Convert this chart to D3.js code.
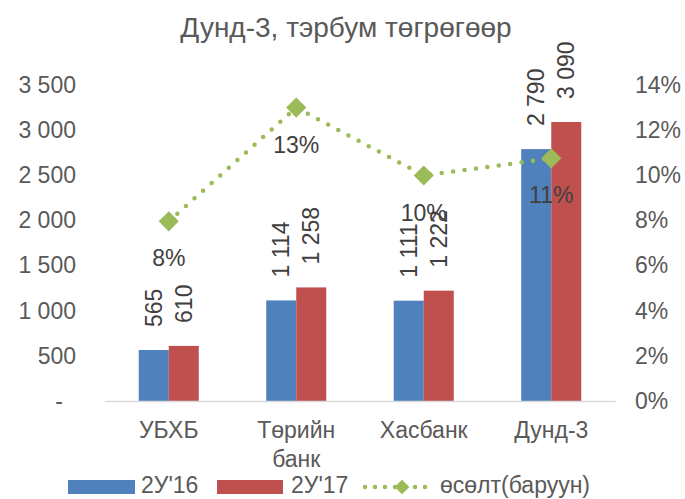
<!DOCTYPE html>
<html>
<head>
<meta charset="utf-8">
<script src="https://cdn.jsdelivr.net/npm/d3@7"></script>
<style>
  body { margin: 0; background: #fff; }
  svg { display: block; font-family: "Liberation Sans", Arial, sans-serif; }
</style>
</head>
<body>
<svg id="chart" width="685" height="499"></svg>
<script>
const titleText = "Дунд-3, тэрбум төгрөгөөр";
const categories = ["УБХБ", "Төрийн банк", "Хасбанк", "Дунд-3"];
const seriesNames = ["2У'16", "2У'17", "өсөлт(баруун)"];
const values16 = [565, 1114, 1111, 2790];
const values17 = [610, 1258, 1222, 3090];
const growth = [0.0796, 0.13, 0.0999, 0.1075];
const leftTicks = [0, 500, 1000, 1500, 2000, 2500, 3000, 3500];
const rightTicks = [0, 0.02, 0.04, 0.06, 0.08, 0.10, 0.12, 0.14];

const colors = { s16: "#4F81BD", s17: "#C0504D", growth: "#9BBB59" };
const textCol = "#595959", labelCol = "#404040";
const fs = 23;

const svg = d3.select("#chart");
const plot = { left: 105, right: 615, top: 85, bottom: 401 };

const x = d3.scaleBand().domain(categories).range([plot.left, plot.right])
  .paddingInner(0.529).paddingOuter(0.2645);
const xs = d3.scaleBand().domain(["s16", "s17"]).range([0, x.bandwidth()]);
const y = d3.scaleLinear().domain([0, 3500]).range([plot.bottom, plot.top]);
const y2 = d3.scaleLinear().domain([0, 0.14]).range([plot.bottom, plot.top]);

const fmtNum = d => d === 0 ? "-" : d3.format(",")(d).replace(/,/g, " ");

// Title
svg.append("text").attr("x", 346).attr("y", 37).attr("text-anchor", "middle")
  .attr("fill", textCol).attr("font-size", 28).text(titleText);

// Left axis
const gL = svg.append("g").attr("transform", `translate(${plot.left},0)`)
  .call(d3.axisLeft(y).tickValues(leftTicks).tickFormat(fmtNum).tickSize(0).tickPadding(29));
gL.select(".domain").remove();
gL.selectAll("text").attr("fill", textCol).attr("font-size", fs)
  .attr("font-family", "Liberation Sans, Arial, sans-serif")
  .attr("dx", d => d === 0 ? -13 : 0);

// Right axis
const gR = svg.append("g").attr("transform", `translate(${plot.right},0)`)
  .call(d3.axisRight(y2).tickValues(rightTicks).tickFormat(d3.format(".0%")).tickSize(0).tickPadding(20));
gR.select(".domain").remove();
gR.selectAll("text").attr("fill", textCol).attr("font-size", fs)
  .attr("font-family", "Liberation Sans, Arial, sans-serif");

// Bars
const barData = categories.map((c, i) => [
  { c, key: "s16", v: values16[i] },
  { c, key: "s17", v: values17[i] }
]).flat();

svg.append("g").selectAll("rect").data(barData).join("rect")
  .attr("x", d => x(d.c) + xs(d.key))
  .attr("y", d => y(d.v))
  .attr("width", xs.bandwidth())
  .attr("height", d => y(0) - y(d.v))
  .attr("fill", d => colors[d.key]);

// X axis baseline
const gX = svg.append("g").attr("transform", `translate(0,${plot.bottom})`)
  .call(d3.axisBottom(x).tickSize(0).tickFormat(""));
gX.select(".domain").attr("stroke", "#D9D9D9").attr("stroke-width", 1.5);

// Category labels (wrapped)
const catG = svg.append("g");
categories.forEach(c => {
  const words = c.split(" ");
  const t = catG.append("text").attr("text-anchor", "middle").attr("fill", textCol)
    .attr("font-size", fs).attr("x", x(c) + x.bandwidth() / 2).attr("y", 438);
  words.forEach((w, j) => {
    t.append("tspan").attr("x", x(c) + x.bandwidth() / 2).attr("dy", j === 0 ? 0 : 29).text(w);
  });
});

// Bar value labels (rotated)
svg.append("g").selectAll("text").data(barData).join("text")
  .attr("transform", d => `translate(${x(d.c) + xs(d.key) + xs.bandwidth() / 2 + 8},${y(d.v) - 23}) rotate(-90)`)
  .attr("text-anchor", "start").attr("fill", labelCol).attr("font-size", fs)
  .text(d => fmtNum(d.v));

// Growth line
const cx = c => x(c) + x.bandwidth() / 2;
const line = d3.line().x((d, i) => cx(categories[i])).y(d => y2(d));
svg.append("path").datum(growth).attr("d", line)
  .attr("fill", "none").attr("stroke", colors.growth).attr("stroke-width", 4.5)
  .attr("stroke-linecap", "round").attr("stroke-dasharray", "0,11.5");

const diamond = d3.symbol().type(d3.symbolSquare).size(150);
svg.append("g").selectAll("path").data(growth).join("path")
  .attr("d", diamond)
  .attr("transform", (d, i) => `translate(${cx(categories[i])},${y2(d)}) rotate(45)`)
  .attr("fill", colors.growth).attr("stroke", colors.growth).attr("stroke-width", 2);

svg.append("g").selectAll("text").data(growth).join("text")
  .attr("x", (d, i) => cx(categories[i]))
  .attr("y", d => y2(d) + 45)
  .attr("text-anchor", "middle").attr("fill", labelCol).attr("font-size", fs)
  .text(d => d3.format(".0%")(d));

// Legend
const leg = svg.append("g");
const legY = 487;
leg.append("rect").attr("x", 68).attr("y", legY - 7).attr("width", 67).attr("height", 14).attr("fill", colors.s16);
leg.append("text").attr("x", 141).attr("y", legY + 6).attr("fill", textCol).attr("font-size", fs).text(seriesNames[0]);
leg.append("rect").attr("x", 217).attr("y", legY - 7).attr("width", 66).attr("height", 14).attr("fill", colors.s17);
leg.append("text").attr("x", 291).attr("y", legY + 6).attr("fill", textCol).attr("font-size", fs).text(seriesNames[1]);
leg.append("line").attr("x1", 365).attr("x2", 430).attr("y1", legY).attr("y2", legY)
  .attr("stroke", colors.growth).attr("stroke-width", 4.5).attr("stroke-linecap", "round")
  .attr("stroke-dasharray", "0,10");
leg.append("path").attr("d", d3.symbol().type(d3.symbolSquare).size(70))
  .attr("transform", `translate(402,${legY}) rotate(45)`)
  .attr("fill", colors.growth).attr("stroke", colors.growth).attr("stroke-width", 2);
leg.append("text").attr("x", 440).attr("y", legY + 6).attr("fill", textCol).attr("font-size", fs).text(seriesNames[2]);
</script>
</body>
</html>
